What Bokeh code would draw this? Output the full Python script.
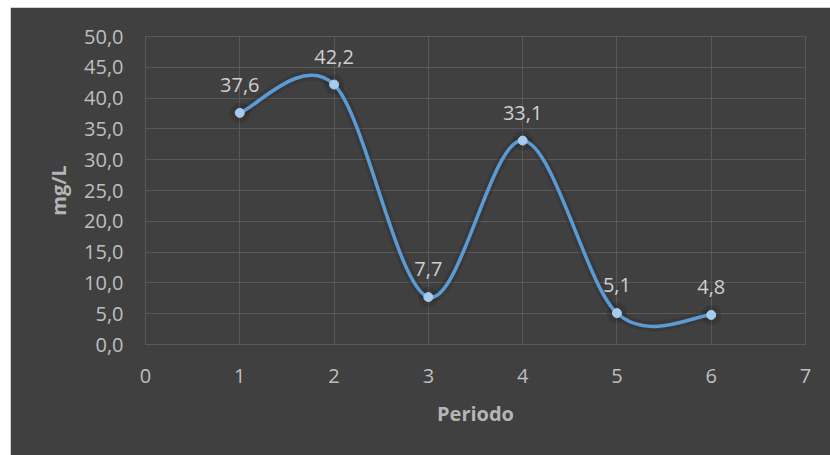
from bokeh.plotting import figure
from bokeh.models import CustomJSTickFormatter, FixedTicker, ColumnDataSource
from bokeh.core.properties import value
from bokeh.embed import file_html
from bokeh.resources import INLINE

# Concentration per period
periods = [1, 2, 3, 4, 5, 6]
conc = [37.6, 42.2, 7.7, 33.1, 5.1, 4.8]
x_ticks = [0, 1, 2, 3, 4, 5, 6, 7]
y_ticks = [0, 5, 10, 15, 20, 25, 30, 35, 40, 45, 50]

BG = "#404040"
GRID = "#595959"
LINE = "#5B9BD5"
MARK = "#A6CBEC"
FONT = "Open Sans"


def smooth_segments(xs, ys):
    """Cubic Bezier segments (Catmull-Rom style) through the points."""
    n = len(xs)
    seg = dict(x0=[], y0=[], x1=[], y1=[], cx0=[], cy0=[], cx1=[], cy1=[])
    for i in range(n - 1):
        xp, yp = (xs[i - 1], ys[i - 1]) if i > 0 else (xs[i], ys[i])
        xn, yn = (xs[i + 2], ys[i + 2]) if i + 2 < n else (xs[i + 1], ys[i + 1])
        seg["x0"].append(xs[i]); seg["y0"].append(ys[i])
        seg["x1"].append(xs[i + 1]); seg["y1"].append(ys[i + 1])
        seg["cx0"].append(xs[i] + (xs[i + 1] - xp) / 6)
        seg["cy0"].append(ys[i] + (ys[i + 1] - yp) / 6)
        seg["cx1"].append(xs[i + 1] - (xn - xs[i]) / 6)
        seg["cy1"].append(ys[i + 1] - (yn - ys[i]) / 6)
    return seg


p = figure(
    width=820, height=448,
    x_range=(0, 7), y_range=(0, 50),
    output_backend="svg", toolbar_location=None,
    background_fill_color=BG, border_fill_color=BG,
    min_border_left=135, min_border_right=25,
    min_border_top=29, min_border_bottom=111,
    margin=(7, 0, 0, 10),
)
p.outline_line_color = GRID
p.outline_line_width = 1

for ax in (p.xaxis[0], p.yaxis[0]):
    ax.axis_line_color = None
    ax.major_tick_line_color = None
    ax.minor_tick_line_color = None
    ax.major_tick_out = 0
    ax.major_tick_in = 0
    ax.major_label_text_font = FONT
    ax.major_label_text_font_size = "20px"
    ax.major_label_text_color = "#bfbfbf"
    ax.axis_label_text_font = FONT
    ax.axis_label_text_font_size = "20px"
    ax.axis_label_text_font_style = "bold"
    ax.axis_label_text_color = "#b5b5b5"

p.xaxis.ticker = FixedTicker(ticks=x_ticks)
p.yaxis.ticker = FixedTicker(ticks=y_ticks)
p.yaxis.formatter = CustomJSTickFormatter(code="return tick.toFixed(1).replace('.', ',');")
p.xaxis.major_label_standoff = 24
p.yaxis.major_label_standoff = 22
p.xaxis.axis_label = "Periodo"
p.yaxis.axis_label = "mg/L"
p.xaxis.axis_label_standoff = 14
p.yaxis.axis_label_standoff = 9

p.xgrid.ticker = FixedTicker(ticks=x_ticks)
p.ygrid.ticker = FixedTicker(ticks=y_ticks)
p.xgrid.grid_line_color = GRID
p.ygrid.grid_line_color = GRID
p.xgrid.grid_line_width = 1
p.ygrid.grid_line_width = 1

seg = ColumnDataSource(smooth_segments(periods, conc))
pts = ColumnDataSource(dict(
    x=periods, y=conc,
    label=[f"{v:.1f}".replace(".", ",") for v in conc],
))

# soft shadow under the series
p.bezier(x0="x0", y0="y0", x1="x1", y1="y1", cx0="cx0", cy0="cy0", cx1="cx1", cy1="cy1",
         source=seg, line_color="#1a1a1a", line_width=10, line_alpha=0.18)
p.scatter("x", "y", source=pts, size=20, fill_color="#1a1a1a", fill_alpha=0.22, line_color=None)

p.bezier(x0="x0", y0="y0", x1="x1", y1="y1", cx0="cx0", cy0="cy0", cx1="cx1", cy1="cy1",
         source=seg, line_color=LINE, line_width=3.5)
p.scatter("x", "y", source=pts, size=9, fill_color=MARK, line_color=MARK)

p.text("x", "y", text="label", source=pts, text_font=value(FONT), text_font_size="20px",
       text_color="#cfcfcf", text_align="center", text_baseline="middle", y_offset=-28)

open("out.html", "w").write(file_html(p, INLINE))
